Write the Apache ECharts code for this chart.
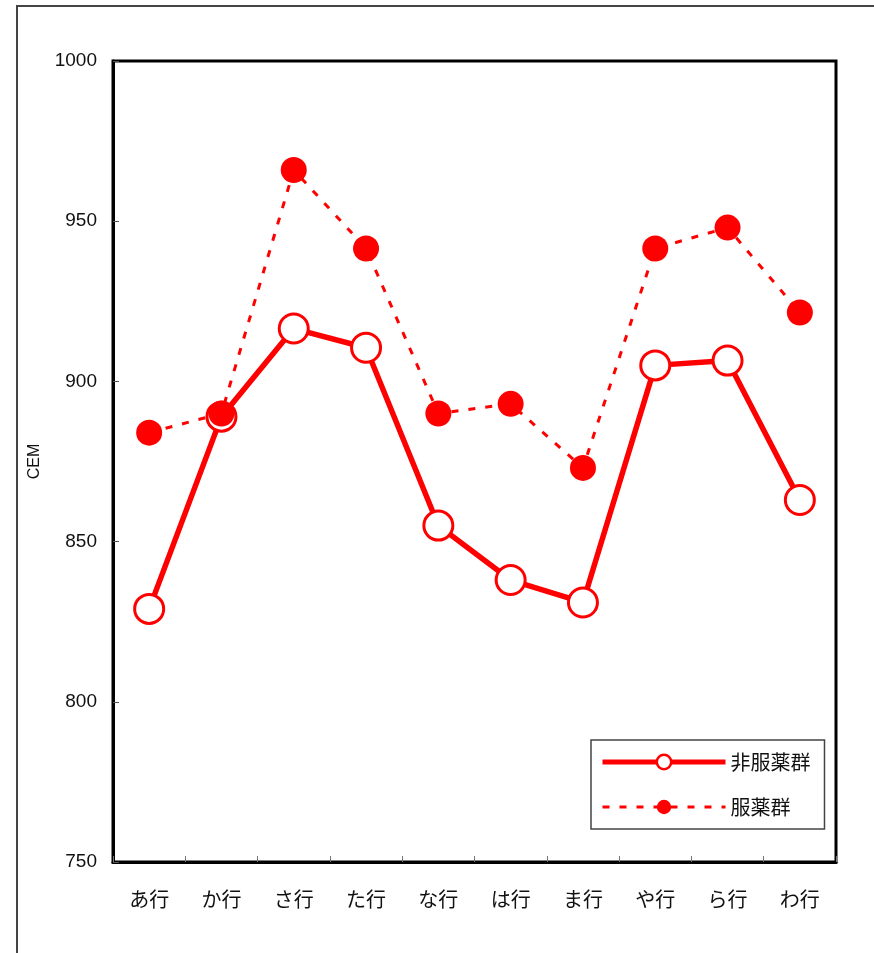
<!DOCTYPE html>
<html>
<head>
<meta charset="utf-8">
<script src="https://cdn.jsdelivr.net/npm/echarts@6/dist/echarts.min.js"></script>
<style>
html,body{margin:0;padding:0;background:#fff;}
#chart{width:874px;height:953px;}
</style>
</head>
<body>
<div id="chart"></div>
<script>
var categories = ['あ行','か行','さ行','た行','な行','は行','ま行','や行','ら行','わ行'];
var nonMedicated = [829, 889, 916.5, 910.5, 855, 838, 831, 905, 906.5, 863];
var medicated = [884, 890, 966, 941.5, 890, 893, 873, 941.5, 948, 921.5];
var seriesNames = ['非服薬群', '服薬群'];
var yMin = 750, yMax = 1000, yStep = 50;

var chart = echarts.init(document.getElementById('chart'), null, {renderer: 'canvas'});
chart.setOption({
  animation: false,
  backgroundColor: '#fff',
  graphic: [{
    type: 'rect', z: -10,
    shape: {x: 17, y: 6, width: 900, height: 1000},
    style: {fill: 'none', stroke: '#444', lineWidth: 2}
  }],
  grid: {left: 113, top: 61, width: 723, height: 801, show: true, borderColor: '#000', borderWidth: 3, backgroundColor: 'transparent'},
  legend: {
    orient: 'vertical',
    left: 591, top: 740,
    padding: [12, 14, 12, 9],
    backgroundColor: '#fff',
    borderColor: '#444', borderWidth: 1.5, borderRadius: 0,
    itemWidth: 123, itemHeight: 18, itemGap: 25,
    textStyle: {fontFamily: 'Noto Sans CJK JP', fontSize: 20, color: '#111', padding: [0,0,0,0]},
    data: [
      {name: seriesNames[0], lineStyle: {width: 5}, itemStyle: {borderWidth: 2.5}},
      {name: seriesNames[1], lineStyle: {width: 3}}
    ]
  },
  xAxis: {
    type: 'category', data: categories, boundaryGap: true,
    axisLine: {show: true, lineStyle: {color: '#000', width: 3}},
    axisTick: {show: true, inside: true, length: 6, lineStyle: {color: '#777', width: 1}},
    axisLabel: {fontFamily: 'Noto Sans CJK JP', fontSize: 20, color: '#111', margin: 27},
    splitLine: {show: false}
  },
  yAxis: {
    type: 'value', min: yMin, max: yMax, interval: yStep,
    name: 'CEM', nameLocation: 'middle', nameRotate: 90, nameGap: 70,
    nameTextStyle: {fontFamily: 'Liberation Sans', fontSize: 16, color: '#111'},
    axisLine: {show: true, lineStyle: {color: '#000', width: 3}},
    axisTick: {show: true, inside: true, length: 6, lineStyle: {color: '#555', width: 1}},
    axisLabel: {fontFamily: 'Liberation Sans', fontSize: 19, color: '#111', margin: 16,
      formatter: function (v) { return String(v); }},
    splitLine: {show: false}
  },
  series: [{
    name: seriesNames[0], type: 'line', data: nonMedicated,
    symbol: 'circle', symbolSize: 29,
    lineStyle: {color: '#ff0000', width: 5.5},
    itemStyle: {color: '#fff', borderColor: '#ff0000', borderWidth: 3},
    z: 2
  }, {
    name: seriesNames[1], type: 'line', data: medicated,
    symbol: 'circle', symbolSize: 26,
    lineStyle: {color: '#ff0000', width: 3, type: [7, 10]},
    itemStyle: {color: '#ff0000', borderColor: '#ff0000', borderWidth: 0},
    z: 3
  }]
});
</script>
</body>
</html>
